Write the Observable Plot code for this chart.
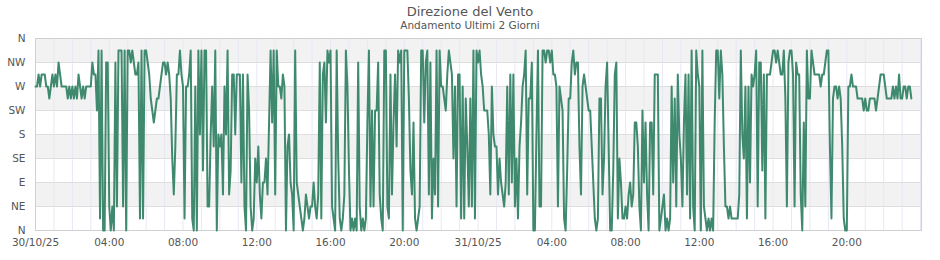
<!DOCTYPE html>
<html><head><meta charset="utf-8">
<script src="https://cdn.jsdelivr.net/npm/d3@7"></script>
<script src="https://cdn.jsdelivr.net/npm/@observablehq/plot@0.6"></script>
<style>
body{margin:0;background:#fff;font-family:"DejaVu Sans",sans-serif;}
#head{width:940px;height:30px;text-align:center;color:#555;}
#title{font-size:13px;line-height:15px;padding-top:4px;}
#sub{font-size:10.5px;line-height:12px;}
svg{overflow:visible;}
</style></head><body>
<div id="head"><div id="title">Direzione del Vento</div><div id="sub">Andamento Ultimi 2 Giorni</div></div>
<div id="chart"></div>
<script>
// start of series and sampling step (5 minutes)
const startTime = Date.UTC(2025, 9, 30, 0, 0);
const endTime = Date.UTC(2025, 10, 1, 0, 3);
const stepMinutes = 5;

// wind direction in degrees, one row per hour (12 samples per hour)
const directions = [
  270, 270, 292.5, 270, 292.5, 292.5, 292.5, 270, 270, 247.5, 270, 292.5,
  270, 292.5, 270, 315, 292.5, 270, 270, 270, 270, 247.5, 270, 247.5,
  270, 247.5, 270, 247.5, 292.5, 270, 247.5, 270, 247.5, 270, 270, 270,
  270, 315, 292.5, 292.5, 225, 337.5, 22.5, 337.5, 0, 0, 315, 315,
  45, 0, 45, 0, 315, 45, 337.5, 337.5, 337.5, 45, 337.5, 0,
  337.5, 337.5, 315, 337.5, 315, 292.5, 292.5, 315, 22.5, 337.5, 22.5, 337.5,
  337.5, 315, 292.5, 247.5, 225, 202.5, 225, 247.5, 247.5, 270, 292.5, 315,
  315, 292.5, 315, 292.5, 247.5, 135, 67.5, 157.5, 292.5, 292.5, 337.5, 292.5,
  270, 22.5, 270, 270, 292.5, 337.5, 22.5, 0, 270, 0, 337.5, 180,
  337.5, 112.5, 337.5, 337.5, 45, 45, 180, 270, 157.5, 337.5, 0, 180,
  157.5, 180, 67.5, 270, 180, 337.5, 67.5, 112.5, 292.5, 292.5, 180, 292.5,
  292.5, 292.5, 90, 292.5, 45, 0, 292.5, 225, 45, 0, 22.5, 135,
  90, 157.5, 67.5, 22.5, 90, 90, 135, 67.5, 202.5, 337.5, 202.5, 337.5,
  67.5, 337.5, 270, 270, 247.5, 292.5, 270, 0, 157.5, 180, 90, 67.5,
  0, 337.5, 90, 67.5, 45, 22.5, 0, 22.5, 67.5, 45, 22.5, 45,
  45, 90, 45, 22.5, 67.5, 315, 22.5, 292.5, 315, 202.5, 337.5, 315,
  337.5, 45, 22.5, 0, 337.5, 135, 22.5, 0, 22.5, 67.5, 337.5, 270,
  112.5, 0, 22.5, 0, 22.5, 0, 315, 45, 0, 22.5, 0, 22.5,
  202.5, 337.5, 45, 225, 45, 225, 225, 315, 67.5, 22.5, 0, 337.5,
  337.5, 45, 22.5, 292.5, 67.5, 202.5, 292.5, 157.5, 337.5, 315, 337.5, 0,
  337.5, 337.5, 337.5, 247.5, 112.5, 67.5, 202.5, 22.5, 0, 22.5, 45, 337.5,
  337.5, 202.5, 315, 337.5, 67.5, 315, 22.5, 135, 67.5, 337.5, 45, 337.5,
  270, 270, 247.5, 225, 292.5, 337.5, 315, 292.5, 135, 270, 45, 292.5,
  292.5, 22.5, 270, 22.5, 247.5, 157.5, 45, 247.5, 45, 337.5, 22.5, 337.5,
  315, 337.5, 292.5, 270, 225, 225, 225, 180, 67.5, 270, 180, 157.5,
  157.5, 67.5, 135, 90, 67.5, 45, 90, 270, 67.5, 292.5, 90, 292.5,
  45, 135, 22.5, 157.5, 202.5, 270, 292.5, 337.5, 67.5, 247.5, 247.5, 315,
  0, 0, 180, 337.5, 45, 45, 337.5, 337.5, 315, 337.5, 337.5, 315,
  337.5, 292.5, 292.5, 270, 45, 270, 247.5, 225, 22.5, 0, 112.5, 247.5,
  247.5, 315, 337.5, 292.5, 315, 315, 157.5, 67.5, 270, 292.5, 270, 247.5,
  225, 225, 157.5, 90, 22.5, 0, 22.5, 247.5, 247.5, 67.5, 135, 270,
  315, 157.5, 0, 0, 112.5, 292.5, 315, 22.5, 135, 90, 22.5, 22.5,
  45, 22.5, 67.5, 90, 45, 67.5, 202.5, 202.5, 157.5, 45, 0, 225,
  90, 202.5, 67.5, 0, 202.5, 202.5, 67.5, 292.5, 292.5, 292.5, 0, 22.5,
  45, 67.5, 0, 22.5, 0, 22.5, 270, 90, 247.5, 45, 292.5, 180,
  135, 45, 202.5, 292.5, 67.5, 292.5, 22.5, 337.5, 45, 0, 337.5, 292.5,
  270, 0, 337.5, 45, 22.5, 0, 22.5, 0, 22.5, 0, 202.5, 337.5,
  337.5, 247.5, 337.5, 292.5, 157.5, 45, 45, 22.5, 45, 22.5, 22.5, 22.5,
  22.5, 22.5, 67.5, 337.5, 180, 135, 270, 22.5, 270, 90, 292.5, 270,
  292.5, 337.5, 45, 315, 315, 112.5, 292.5, 22.5, 292.5, 292.5, 292.5, 315,
  337.5, 337.5, 315, 337.5, 315, 292.5, 292.5, 337.5, 247.5, 45, 315, 337.5,
  337.5, 292.5, 45, 315, 292.5, 292.5, 67.5, 0, 202.5, 45, 337.5, 247.5,
  247.5, 337.5, 315, 292.5, 292.5, 292.5, 292.5, 270, 292.5, 292.5, 315, 337.5,
  337.5, 157.5, 22.5, 247.5, 270, 270, 247.5, 270, 247.5, 157.5, 22.5, 0,
  0, 270, 270, 292.5, 270, 270, 270, 247.5, 247.5, 247.5, 247.5, 225,
  247.5, 225, 225, 247.5, 247.5, 247.5, 247.5, 225, 247.5, 270, 292.5, 292.5,
  292.5, 270, 247.5, 247.5, 247.5, 247.5, 270, 247.5, 270, 247.5, 292.5, 247.5,
  247.5, 270, 270, 247.5, 270, 270, 247.5
];

const yTickValues = [0, 45, 90, 135, 180, 225, 270, 315, 360];
const yTickLabels = ["N", "NE", "E", "SE", "S", "SW", "W", "NW", "N"];
const shadedBandStarts = [45, 135, 225, 315];
const xLabelHours = [0, 4, 8, 12, 16, 20, 24, 28, 32, 36, 40, 44];

const data = directions.map((v, i) => ({ t: new Date(startTime + i * stepMinutes * 60000), v }));
const hourLines = d3.utcHour.range(new Date(startTime), new Date(endTime));
const xTicks = xLabelHours.map(h => new Date(startTime + h * 3600000));
const fmtDay = d3.utcFormat("%d/%m/%y"), fmtHour = d3.utcFormat("%H:%M");

const chart = Plot.plot({
  width: 940,
  height: 230,
  marginTop: 8,
  marginBottom: 30,
  marginLeft: 35,
  marginRight: 19,
  style: { fontFamily: "DejaVu Sans, sans-serif", fontSize: "10.5px", color: "#555", background: "#fff" },
  x: { type: "utc", domain: [new Date(startTime), new Date(endTime)] },
  y: { domain: [0, 360] },
  marks: [
    Plot.rect(shadedBandStarts, { y1: d => d, y2: d => d + 45, fill: "#f2f2f2" }),
    Plot.ruleX(hourLines, { stroke: "#e8e8f6", strokeWidth: 1 }),
    Plot.ruleY(yTickValues, { stroke: "#dedede", strokeWidth: 1 }),
    Plot.frame({ stroke: "#d0d0d0" }),
    Plot.axisY({ ticks: yTickValues, tickSize: 0, tickPadding: 10, tickFormat: d => yTickLabels[yTickValues.indexOf(d)], label: null }),
    Plot.axisX({ ticks: xTicks, tickSize: 0, tickPadding: 8, tickFormat: d => (d.getUTCHours() === 0 ? fmtDay(d) : fmtHour(d)), label: null }),
    Plot.line(data, { x: "t", y: "v", stroke: "#3f8a6e", strokeWidth: 2 })
  ]
});
document.getElementById("chart").appendChild(chart);
</script>
</body></html>
